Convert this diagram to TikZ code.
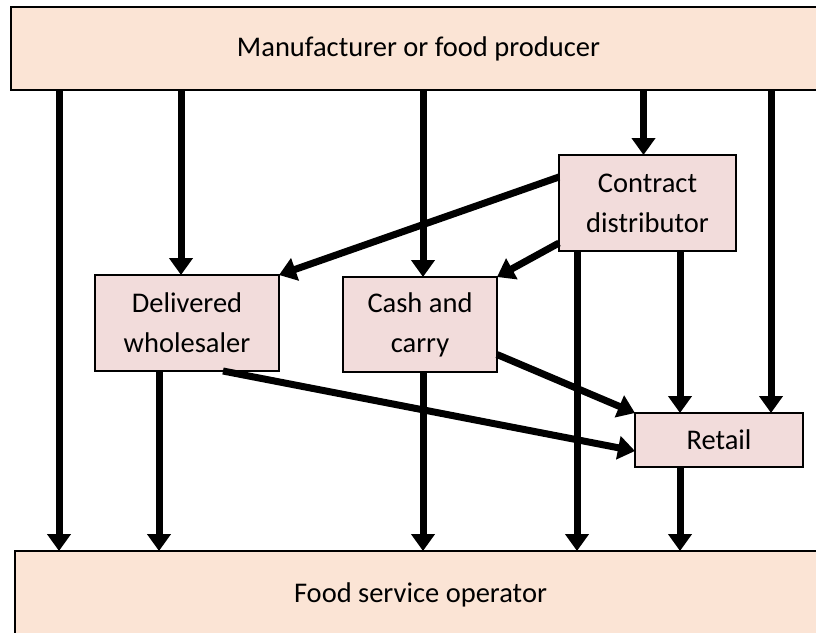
\documentclass[tikz,border=0pt]{standalone}
\usepackage{fontspec}
\setmainfont{Carlito}
\usepackage{tikz}
\usetikzlibrary{arrows.meta}

\definecolor{peach}{HTML}{FBE4D5}
\definecolor{rose}{HTML}{F2DCDB}

\begin{document}
\begin{tikzpicture}[x=1pt, y=-1pt, font=\fontsize{28.5}{40}\selectfont,
  tier/.style = {draw, line width=2.5pt, fill=peach, outer sep=0pt, inner sep=0pt},
  agent/.style = {draw, line width=2pt, fill=rose, align=center, outer sep=0pt, inner sep=0pt},
  flow/.style = {line width=7pt, -{Triangle[width=23pt, length=17pt]}}]
\useasboundingbox (0,0) rectangle (816,632);
\clip (0,0) rectangle (816,632);
% the two ends of the chain
\node[tier, minimum width=815, minimum height=83] (mfr) at (418.5,48.5) {Manufacturer or food producer};
\node[tier, minimum width=811, minimum height=88] (fso) at (420.5,595) {Food service operator};
% intermediaries
\node[agent, minimum width=177, minimum height=96] (cd) at (647.5,203) {Contract\\distributor};
\node[agent, minimum width=184, minimum height=96] (dw) at (187,323) {Delivered\\wholesaler};
\node[agent, minimum width=154, minimum height=95] (cc) at (420,324.5) {Cash and\\carry};
\node[agent, minimum width=168, minimum height=54] (rt) at (719,440) {Retail};
% straight down from the producer
\draw[flow] ([xshift=48]mfr.south west) -- ([xshift=48]mfr.south west |- fso.north);
\draw[flow] ([xshift=-6]dw.north |- mfr.south) -- ([xshift=-6]dw.north);
\draw[flow] ([xshift=3]cc.north |- mfr.south) -- ([xshift=3]cc.north);
\draw[flow] ([xshift=-4]cd.north |- mfr.south) -- ([xshift=-4]cd.north);
\draw[flow] ([xshift=52]rt.north |- mfr.south) -- ([xshift=52]rt.north);
% out of the contract distributor
\draw[flow] ([yshift=26]cd.west) -- (dw.north east);
\draw[flow] ([yshift=-40]cd.west) -- (cc.north east);
\draw[flow] ([xshift=18]cd.south west) -- ([xshift=18]cd.south west |- fso.north);
\draw[flow] ([xshift=-39]rt.north |- cd.south) -- ([xshift=-39]rt.north);
% wholesalers and retail to the operator
\draw[flow] ([xshift=-28]dw.south) -- ([xshift=-28]dw.south |- fso.north);
\draw[flow] ([xshift=36]dw.south) -- ([yshift=-11]rt.west);
\draw[flow] ([xshift=3]cc.south) -- ([xshift=3]cc.south |- fso.north);
\draw[flow] ([yshift=-30]cc.east) -- (rt.north west);
\draw[flow] ([xshift=-39]rt.south) -- ([xshift=-39]rt.south |- fso.north);
\end{tikzpicture}
\end{document}
